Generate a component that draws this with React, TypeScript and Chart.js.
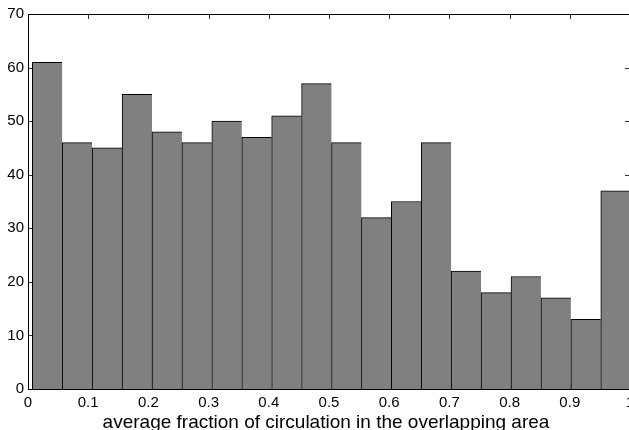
import React, { useEffect, useRef } from 'react';
import { Chart, registerables } from 'chart.js';

Chart.register(...registerables);

// Histogram bin centres (x) and counts (y)
const binCenters = [
  0.0320, 0.0817, 0.1314, 0.1811, 0.2308, 0.2805, 0.3302, 0.3799, 0.4296, 0.4793,
  0.5290, 0.5787, 0.6284, 0.6781, 0.7278, 0.7775, 0.8272, 0.8769, 0.9266, 0.9763,
];
const counts = [61, 46, 45, 55, 48, 46, 50, 47, 51, 57, 46, 32, 35, 46, 22, 18, 21, 17, 13, 37];

const xTickValues = [0, 0.1, 0.2, 0.3, 0.4, 0.5, 0.6, 0.7, 0.8, 0.9, 1];
const xTickLabels = ['0', '0.1', '0.2', '0.3', '0.4', '0.5', '0.6', '0.7', '0.8', '0.9', '1'];
const yTickValues = [0, 10, 20, 30, 40, 50, 60, 70];
const yTickLabels = ['0', '10', '20', '30', '40', '50', '60', '70'];
const xTitle = 'average fraction of circulation in the overlapping area';

const FONT_FAMILY = '"Liberation Sans", Arial, Helvetica, sans-serif';
const TICK_LEN = 5;

const matlabAxes = {
  id: 'matlabAxes',
  beforeDatasetsDraw(chart: any) {
    const { ctx, chartArea: a, scales } = chart;
    ctx.save();
    ctx.strokeStyle = '#333';
    ctx.lineWidth = 1;
    ctx.beginPath();
    xTickValues.forEach((v) => {
      const px = Math.round(scales.x.getPixelForValue(v)) + 0.5;
      ctx.moveTo(px, a.bottom);
      ctx.lineTo(px, a.bottom - TICK_LEN);
      ctx.moveTo(px, a.top);
      ctx.lineTo(px, a.top + TICK_LEN);
    });
    yTickValues.forEach((v) => {
      const py = Math.round(scales.y.getPixelForValue(v)) + 0.5;
      ctx.moveTo(a.left, py);
      ctx.lineTo(a.left + TICK_LEN, py);
      ctx.moveTo(a.right, py);
      ctx.lineTo(a.right - TICK_LEN, py);
    });
    ctx.stroke();
    ctx.restore();
  },
  afterDatasetsDraw(chart: any) {
    const { ctx, chartArea: a } = chart;
    ctx.save();
    ctx.strokeStyle = '#000';
    ctx.lineWidth = 1;
    const l = Math.round(a.left) + 0.5;
    const r = Math.round(a.right) - 0.5;
    const t = Math.round(a.top) + 0.5;
    const b = Math.round(a.bottom) + 0.5;
    ctx.strokeRect(l, t, r - l, b - t);
    ctx.restore();
  },
  afterDraw(chart: any) {
    const { ctx, chartArea: a } = chart;
    ctx.save();
    ctx.fillStyle = '#000';
    ctx.font = `19px ${FONT_FAMILY}`;
    ctx.textAlign = 'center';
    ctx.textBaseline = 'alphabetic';
    ctx.fillText(xTitle, (a.left + a.right) / 2 - 3, 428);
    ctx.restore();
  },
};

export default function App() {
  const canvasRef = useRef<HTMLCanvasElement | null>(null);

  useEffect(() => {
    const canvas = canvasRef.current;
    if (!canvas) return;
    const chart = new Chart(canvas, {
      type: 'bar',
      data: {
        datasets: [
          {
            data: binCenters.map((x, i) => ({ x, y: counts[i] })),
            backgroundColor: '#808080',
            borderColor: '#000',
            borderWidth: { left: 1, top: 1, right: 0, bottom: 0 },
            borderSkipped: 'start',
            barPercentage: 1,
            categoryPercentage: 1,
          } as any,
        ],
      },
      options: {
        animation: false,
        responsive: false,
        devicePixelRatio: 1,
        layout: { padding: { top: 14, right: 0, left: 0, bottom: 0 } },
        plugins: {
          legend: { display: false },
          tooltip: { enabled: false },
          title: { display: false },
        },
        scales: {
          x: {
            type: 'linear',
            min: 0,
            max: 1,
            offset: false,
            grid: { display: false, drawTicks: false },
            border: { display: false },
            ticks: {
              padding: 5,
              color: '#000',
              font: { family: FONT_FAMILY, size: 15 },
              autoSkip: false,
              maxRotation: 0,
              minRotation: 0,
              callback: (_v: any, i: number) => xTickLabels[i],
            },
            afterBuildTicks: (s: any) => {
              s.ticks = xTickValues.map((v) => ({ value: v }));
            },
            afterFit: (s: any) => {
              s.height = 41;
              s.paddingLeft = 0;
              s.paddingRight = 0;
            },
          },
          y: {
            type: 'linear',
            min: 0,
            max: 70,
            grid: { display: false, drawTicks: false },
            border: { display: false },
            ticks: {
              padding: 4,
              color: '#000',
              font: { family: FONT_FAMILY, size: 15 },
              callback: (_v: any, i: number) => yTickLabels[i],
            },
            afterBuildTicks: (s: any) => {
              s.ticks = yTickValues.map((v) => ({ value: v }));
            },
            afterFit: (s: any) => {
              s.width = 28;
            },
          },
        },
      } as any,
      plugins: [matlabAxes],
    });
    return () => chart.destroy();
  }, []);

  return (
    <div
      style={{
        position: 'fixed',
        left: 0,
        top: 0,
        width: 629,
        height: 430,
        overflow: 'hidden',
        background: '#fff',
      }}
    >
      <canvas ref={canvasRef} width={630} height={430} style={{ display: 'block' }} />
    </div>
  );
}
